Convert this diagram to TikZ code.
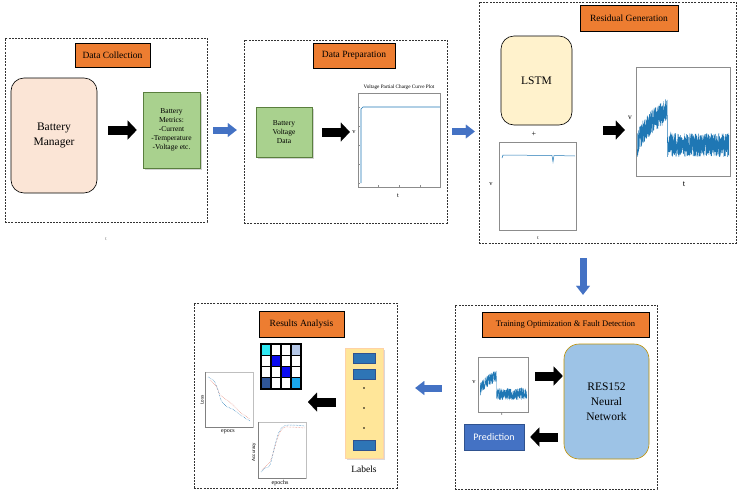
\documentclass[tikz,border=0pt]{standalone}
\usepackage{fontspec}
\setmainfont{Liberation Serif}
\newfontfamily\calibri{Carlito}
\newfontfamily\helv{Liberation Sans}
\usetikzlibrary{arrows.meta, positioning, shadows}

\definecolor{orangeT}{HTML}{ED7D31}
\definecolor{peche}{HTML}{FBE5D6}
\definecolor{vertB}{HTML}{A9D18E}
\definecolor{vertF}{HTML}{5A7F3E}
\definecolor{creme}{HTML}{FFF2CC}
\definecolor{bleuC}{HTML}{9DC3E6}
\definecolor{orD}{HTML}{BF9000}
\definecolor{bleuP}{HTML}{4472C4}
\definecolor{bleuPF}{HTML}{2F528F}
\definecolor{courbe}{HTML}{1F77B4}
\definecolor{jaune}{HTML}{FFE699}
\definecolor{bleuE}{HTML}{2E75B6}
\definecolor{cyanM}{HTML}{2EE8F2}
\definecolor{bleuL}{HTML}{B4C7E7}
\definecolor{bleuV}{HTML}{0A0AF0}
\definecolor{marine}{HTML}{2F5597}
\definecolor{ciel}{HTML}{1AA7EC}
\definecolor{rougeC}{HTML}{E07B6A}

\begin{document}
\begin{tikzpicture}[x=1pt, y=-1pt,
    panneau/.style={draw=black!80, dash pattern=on 2pt off 1.2pt, line width=0.5pt},
    titre/.style={draw=black, line width=0.6pt, fill=orangeT, font=\fontsize{9.5}{10}\selectfont, inner sep=0pt},
    boite/.style={draw=black, line width=0.6pt, rounded corners=13pt, font=\fontsize{11.5}{15}\selectfont, align=center, inner sep=0pt},
    verte/.style={draw=vertF, line width=0.7pt, fill=vertB, font=\fontsize{7.5}{9}\selectfont, align=center, inner sep=0pt,
        drop shadow={shadow xshift=1.5pt, shadow yshift=-1.5pt, opacity=0.35}},
    cadre/.style={draw=black!45, line width=0.4pt, inner sep=0pt},
    fleche/.style={line width=9pt, -{Triangle[length=9pt, width=19pt, line width=0.01pt]}},
    flechebleue/.style={bleuP, line width=7pt, -{Triangle[length=9pt, width=14pt, line width=0.01pt]}},
    petit/.style={font=\fontsize{6.5}{7}\selectfont, inner sep=0pt},
    etiq/.style={draw=bleuPF, fill=bleuE, minimum width=22, minimum height=10, inner sep=0pt},
]
\useasboundingbox (0,0) rectangle (742,501);
\pgfmathsetseed{12}

% Panneaux et titres
\node[panneau, minimum width=202, minimum height=184] (p1) at (106,130) {};
\node[panneau, minimum width=203, minimum height=183] (p2) at (345.5,131.5) {};
\node[panneau, minimum width=257, minimum height=241] (p3) at (607.5,122.5) {};
\node[panneau, minimum width=202, minimum height=184] (p4) at (556,397) {};
\node[panneau, minimum width=203, minimum height=185] (p5) at (295.5,395.5) {};

\node[titre, minimum width=75, minimum height=24] (t1) at (112.5,55) {Data Collection};
\node[titre, minimum width=82, minimum height=25] (t2) at (354,55.5) {Data Preparation};
\node[titre, minimum width=98, minimum height=26] (t3) at (629,18) {Residual Generation};
\node[titre, minimum width=167, minimum height=25, font=\fontsize{8.5}{10}\selectfont] (t4) at (565.5,324.5) {Training Optimization \& Fault Detection};
\node[titre, minimum width=85, minimum height=26] (t5) at (301.5,324) {Results Analysis};

% Collecte
\node[boite, fill=peche, minimum width=86, minimum height=115] (bm) at (54,135.5) {Battery\\Manager};
\node[verte, minimum width=57, minimum height=76] (metriques) at (171.5,130) {Battery\\Metrics:\\-Current\\-Temperature\\-Voltage etc.};
\node[petit, font=\fontsize{5}{5}\selectfont, black!60] (tc) at (106,239) {t};

% Preparation
\node[verte, minimum width=56, minimum height=50] (bvd) at (284,132) {Battery\\Voltage\\Data};
\node[cadre, minimum width=82, minimum height=94] (pc) at (399,140) {};
\node[petit, font=\fontsize{5.2}{6}\selectfont, above=3pt of pc] (pctitre) {Voltage Partial Charge Curve Plot};
\node[petit] (pcv) at (354,132) {v};
\node[petit] (pct) at (398,196) {t};
\foreach \y in {107,126,145,164,183} \draw[black!45, line width=0.3pt] (358,\y) -- ++(2,0);
\foreach \x in {378,399,420} \draw[black!45, line width=0.3pt] (\x,187) -- ++(0,-2);
\draw[courbe, line width=0.6pt] (361,183) -- (361,109) -- (363,107) -- (440,107);

% Generation des residus
\node[boite, fill=creme, minimum width=71, minimum height=89] (lstm) at (536.5,80.5) {LSTM};
\node[petit, font=\fontsize{8}{8}\selectfont] (plus) at (534,134) {+};
\node[cadre, minimum width=77, minimum height=88] (rs) at (537.5,186) {};
\node[petit] (rsv) at (491,184) {v};
\node[petit, font=\fontsize{5}{5}\selectfont] (rst) at (538,238) {t};
\draw[courbe, line width=0.5pt] (502,158) -- (503,155) -- (552,155.5) -- (553,162) -- (554,155.5) -- (575,156);

\node[cadre, minimum width=94, minimum height=109] (rg) at (683,121.5) {};
\node[petit, font=\fontsize{7.5}{8}\selectfont] (rgv) at (630,118) {v};
\node[petit, font=\fontsize{8.5}{9}\selectfont] (rgt) at (684,184) {t};
\draw[courbe, line width=0.4pt] plot[domain=0.003:1, samples=900]
    ({637+92*\x}, {(\x<0.33 ? 150-40*sqrt(\x/0.33) : 145) + 12*rand});

% Entrainement et detection
\node[cadre, minimum width=50, minimum height=55] (rp) at (503,384.5) {};
\node[petit] (rpv) at (474,382) {v};
\node[petit, font=\fontsize{4}{4}\selectfont] (rpt) at (502,414) {t};
\draw[courbe, line width=0.3pt] plot[domain=0.003:1, samples=450]
    ({480+47*\x}, {(\x<0.35 ? 392-16*sqrt(\x/0.35) : 394) + 6*rand});
\node[boite, draw=orD, fill=bleuC, rounded corners=15pt, minimum width=85, minimum height=115] (res) at (606.5,401.5) {RES152\\Neural\\Network};
\node[draw=bleuPF, line width=0.6pt, fill=bleuP, text=white, font=\calibri\fontsize{10}{12}\selectfont, minimum width=60, minimum height=26, inner sep=0pt] (pred) at (494,437) {Prediction};

% Analyse des resultats
\node[draw=orange!35, fill=jaune, minimum width=38, minimum height=110,
    drop shadow={shadow xshift=1.5pt, shadow yshift=-1.5pt, opacity=0.3}] (etiquettes) at (364,403) {};
\foreach \y in {358,374,445} \node[etiq] (e\y) at (364,\y) {};
\foreach \y in {388,408,428} \fill (364,\y) circle (0.8);
\node[below=8pt of etiquettes, inner sep=0pt, font=\fontsize{9.5}{10}\selectfont] (lab) {Labels};

\foreach \ligne/\cases in {0/{cyanM,white,white,bleuL}, 1/{white,bleuV,white,white},
    2/{white,white,bleuV,white}, 3/{marine,white,white,ciel}}
  \foreach \c [count=\k from 0] in \cases
    \filldraw[fill=\c, draw=black, line width=1.1pt] (261+10*\k,344+11.25*\ligne) rectangle ++(10,11.25);

\node[cadre, draw=black!25, minimum width=48, minimum height=55] (perte) at (229,399.5) {};
\draw[black!50, line width=0.4pt] (perte.north west) -- (perte.south west) -- (perte.south east);
\draw[rougeC, densely dotted, line width=0.5pt] plot[smooth] coordinates {(210,380) (216,386) (220,395) (224,398) (232,404) (240,412) (250,419)};
\draw[courbe, densely dotted, line width=0.5pt] plot[smooth] coordinates {(208,377) (214,381) (218,390) (221,400) (226,406) (234,410) (242,416) (250,421)};
\node[petit, font=\helv\fontsize{4.5}{5}\selectfont, rotate=90] (pertey) at (202,400) {Loss};
\node[petit, font=\fontsize{6}{6}\selectfont] (pertex) at (228,432) {epocs};

\node[cadre, draw=black!25, minimum width=48, minimum height=56] (prec) at (282,450) {};
\draw[black!50, line width=0.4pt] (prec.north west) -- (prec.south west) -- (prec.south east);
\draw[rougeC, densely dotted, line width=0.5pt] plot[smooth] coordinates {(262,470) (266,466) (270,462) (274,450) (278,437) (283,428) (290,427) (305,428)};
\draw[courbe, densely dotted, line width=0.5pt] plot[smooth] coordinates {(261,472) (265,468) (270,465) (275,445) (279,432) (284,426) (292,425) (305,426)};
\node[petit, font=\helv\fontsize{4.5}{5}\selectfont, rotate=90] (precy) at (254,452) {Accuracy};
\node[petit, font=\fontsize{6}{6}\selectfont] (precx) at (280,483) {epochs};

% Fleches internes
\coordinate (nivR) at (0,130);
\coordinate (nivT) at (0,376);
\coordinate (cible) at (308,402);
\draw[fleche, shorten <=11, shorten >=6] (bm.east |- metriques) -- (metriques.west);
\draw[fleche, shorten <=10, shorten >=8] (bvd.east) -- (bvd -| pc.west);
\draw[fleche, shorten <=31, shorten >=11] (lstm.east |- nivR) -- (rg.west |- nivR);
\draw[fleche, shorten <=7, shorten >=1] (rp.east |- nivT) -- (res.west |- nivT);
\draw[fleche, shorten <=6, shorten >=6] (res.west |- pred) -- (pred.east);
\draw[fleche, shorten <=9] (etiquettes.west |- cible) -- (cible);

% Fleches entre les etapes
\coordinate (colB) at (583,0);
\coordinate (nivB) at (0,388);
\draw[flechebleue, shorten <=6, shorten >=7] (p1.east) -- (p1.east -| p2.west);
\draw[flechebleue, shorten <=5, shorten >=4] (p2.east) -- (p2.east -| p3.west);
\draw[flechebleue, shorten <=15, shorten >=10] (p3.south -| colB) -- (p4.north -| colB);
\draw[flechebleue, shorten <=13, shorten >=18] (p4.west |- nivB) -- (p5.east |- nivB);

\end{tikzpicture}
\end{document}
